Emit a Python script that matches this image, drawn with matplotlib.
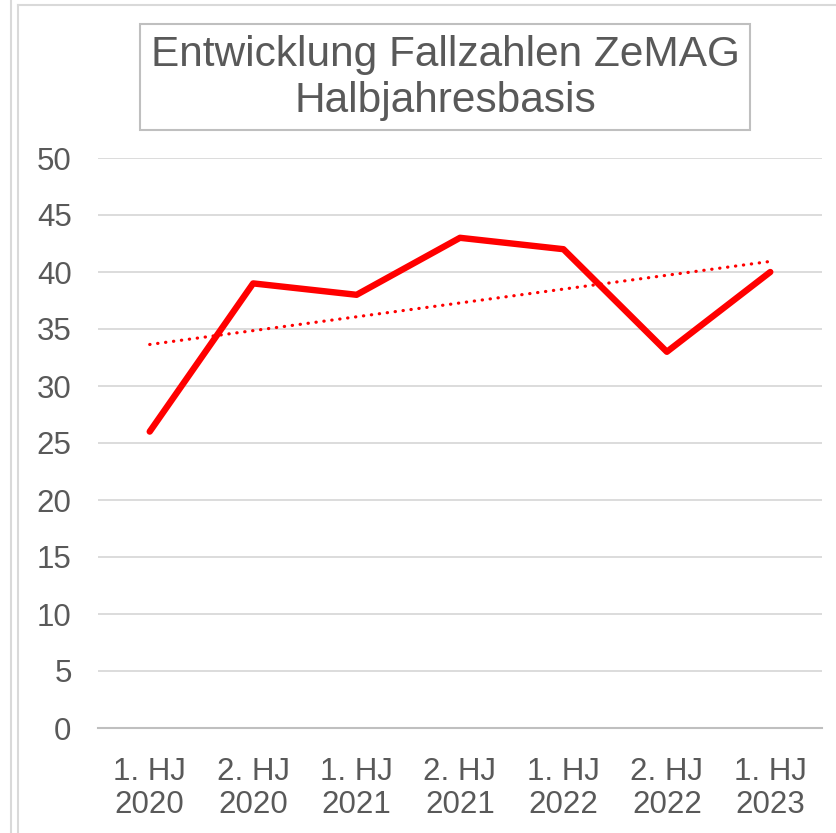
import numpy as np
import matplotlib
matplotlib.use("Agg")
import matplotlib.pyplot as plt
from matplotlib.patches import Rectangle
from matplotlib.lines import Line2D

plt.rcParams['font.family'] = ['Liberation Sans', 'DejaVu Sans']

categories = ["1. HJ\n2020", "2. HJ\n2020", "1. HJ\n2021", "2. HJ\n2021",
              "1. HJ\n2022", "2. HJ\n2022", "1. HJ\n2023"]
values = [26, 39, 38, 43, 42, 33, 40]
yticks = [0, 5, 10, 15, 20, 25, 30, 35, 40, 45, 50]
title = "Entwicklung Fallzahlen ZeMAG\nHalbjahresbasis"

W, H = 836, 833
fig = plt.figure(figsize=(W / 100, H / 100), dpi=100)
fig.patch.set_facecolor("white")

# plot area in pixel coords
left, right, top, bottom = 98, 822, 158, 728
ax = fig.add_axes([left / W, 1 - bottom / H, (right - left) / W, (bottom - top) / H])

x = np.arange(len(values))
ax.plot(x, values, color="#ff0000", lw=4.6, solid_capstyle="round",
        solid_joinstyle="round", zorder=3)

# linear trendline
coef = np.polyfit(x, values, 1)
ax.plot(x, np.polyval(coef, x), color="#ff0000", lw=2.3, linestyle=(0, (0.1, 2.4)),
        dash_capstyle="round", zorder=2)

ax.set_xlim(-0.5, len(values) - 0.5)
ax.set_ylim(0, 50)
ax.set_yticks(yticks)
ax.yaxis.grid(True, color="#d9d9d9", lw=1.3)
ax.set_axisbelow(True)
for s in ["left", "right", "top"]:
    ax.spines[s].set_visible(False)
ax.spines["bottom"].set_color("#bfbfbf")
ax.spines["bottom"].set_linewidth(1.5)
ax.set_xticks(x)
ax.set_xticklabels(categories, linespacing=1.12)
ax.tick_params(axis="both", length=0, labelsize=22.5, colors="#595959")
ax.tick_params(axis="y", pad=19)
ax.tick_params(axis="x", pad=21)

# title box
fig.patches.append(Rectangle((140 / W, 1 - 130 / H), (750 - 140) / W, (130 - 24) / H,
                             transform=fig.transFigure, fill=False,
                             edgecolor="#bfbfbf", lw=1.5))
fig.text(445 / W, 1 - 78 / H, title, ha="center", va="center", fontsize=30.5,
         color="#595959", linespacing=1.18)

# chart-area borders
fig.lines.append(Line2D([11 / W, 11 / W], [0, 1], transform=fig.transFigure,
                        color="#d9d9d9", lw=1.5))
fig.lines.append(Line2D([17.5 / W, 17.5 / W], [0, 1 - 5 / H], transform=fig.transFigure,
                        color="#d9d9d9", lw=1.5))
fig.lines.append(Line2D([17.5 / W, 1], [1 - 5 / H, 1 - 5 / H], transform=fig.transFigure,
                        color="#d9d9d9", lw=1.5))

fig.savefig("out.png", dpi=100)
